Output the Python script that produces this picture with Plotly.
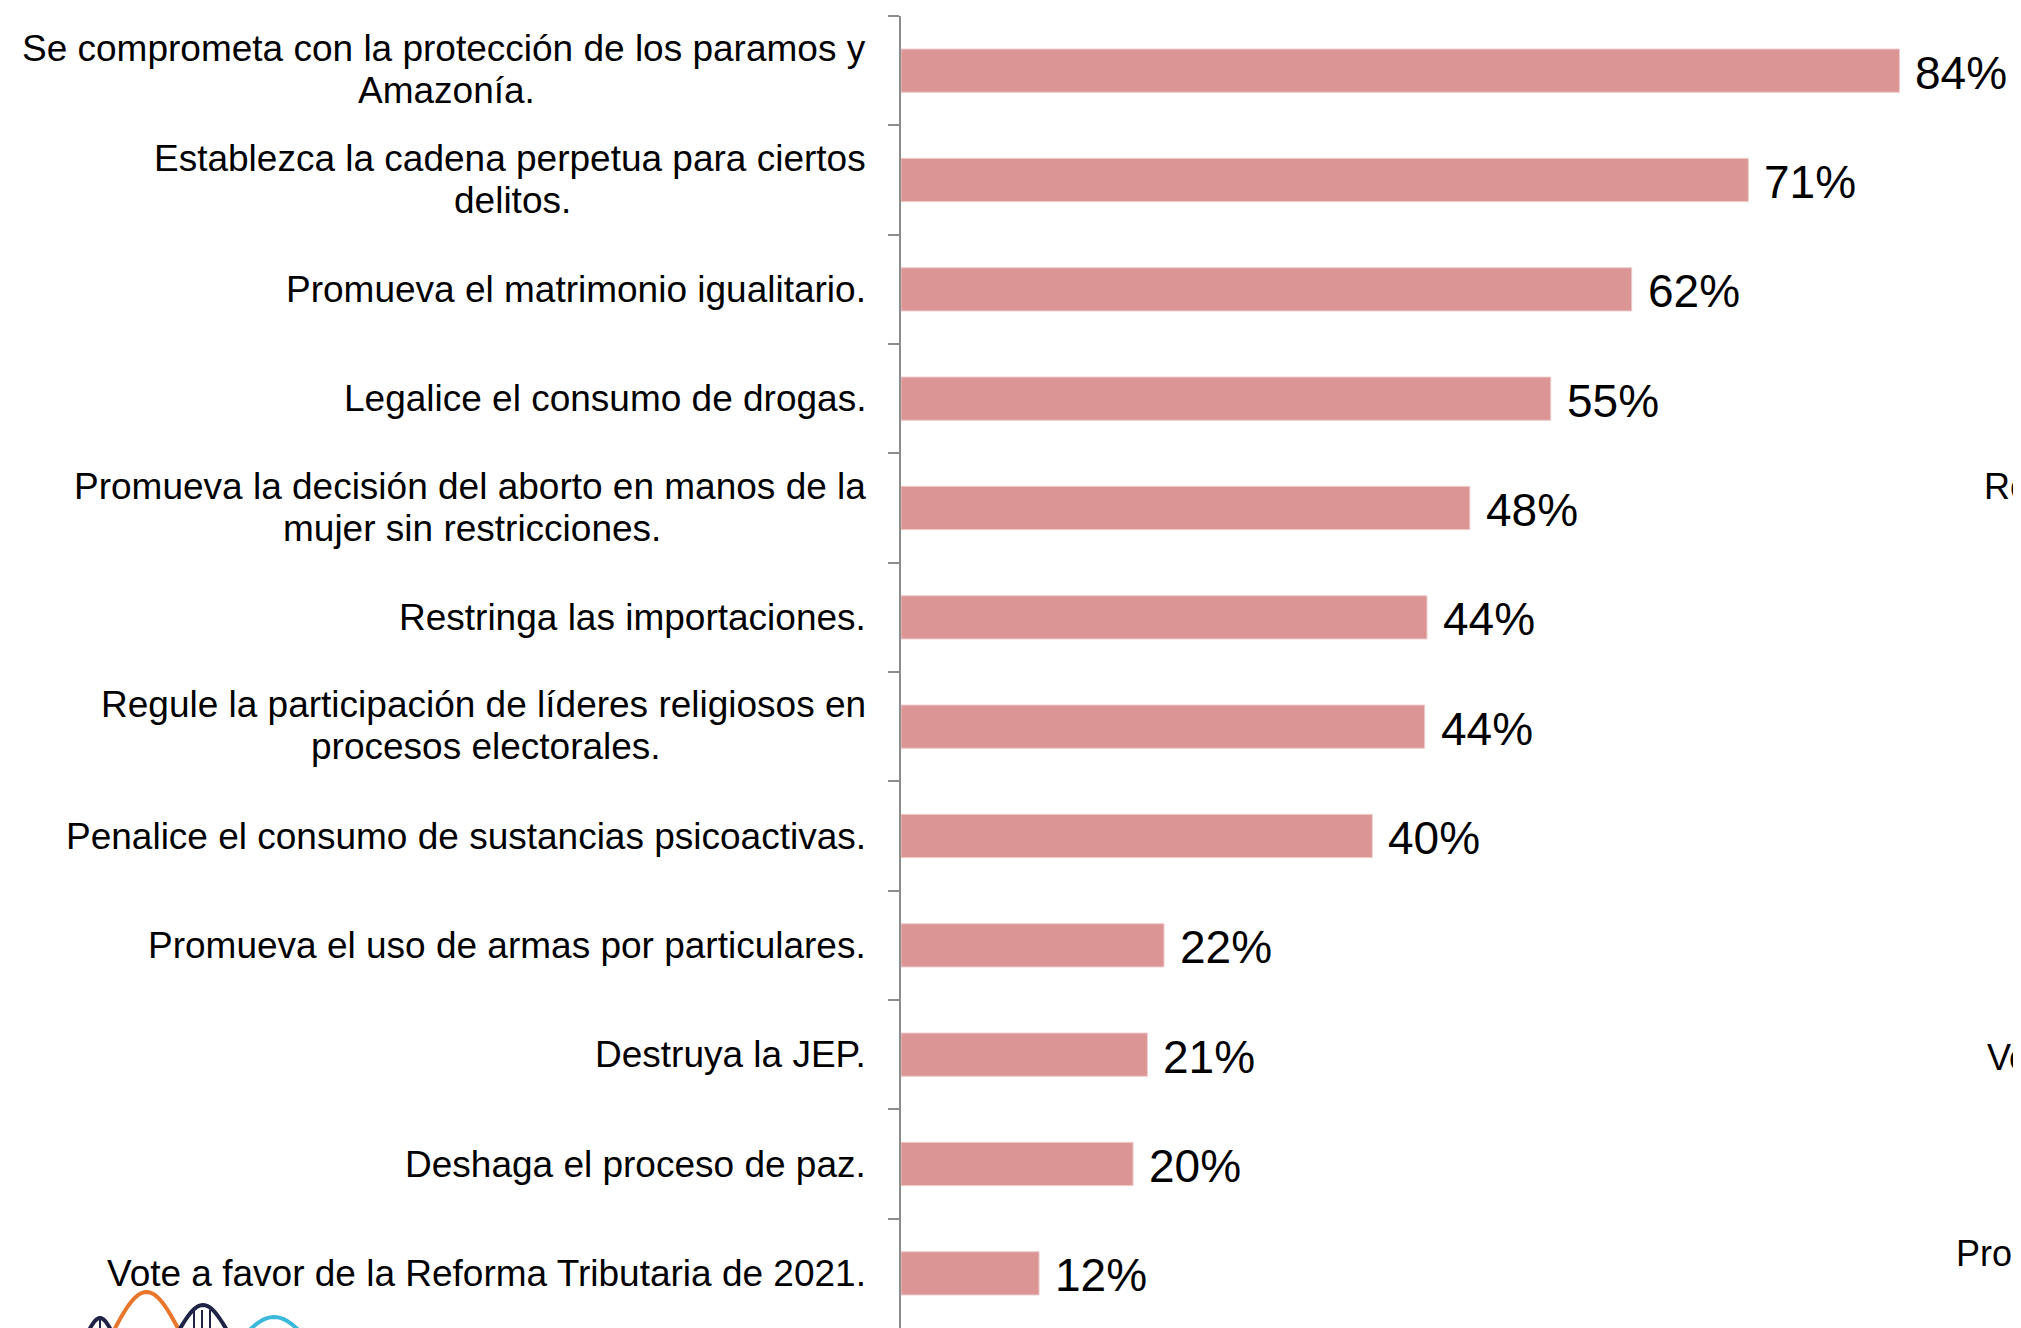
import math
import plotly.graph_objects as go

categories = [
    "Se comprometa con la protección de los paramos y<br>Amazonía.",
    "Establezca la cadena perpetua para ciertos<br>delitos.",
    "Promueva el matrimonio igualitario.",
    "Legalice el consumo de drogas.",
    "Promueva la decisión del aborto en manos de la<br>mujer sin restricciones.",
    "Restringa las importaciones.",
    "Regule la participación de líderes religiosos en<br>procesos electorales.",
    "Penalice el consumo de sustancias psicoactivas.",
    "Promueva el uso de armas por particulares.",
    "Destruya la JEP.",
    "Deshaga el proceso de paz.",
    "Vote a favor de la Reforma Tributaria de 2021.",
]
values = [83.9, 71.2, 61.4, 54.6, 47.8, 44.2, 44.0, 39.6, 22.1, 20.7, 19.5, 11.6]
value_labels = ["84%", "71%", "62%", "55%", "48%", "44%", "44%", "40%", "22%", "21%", "20%", "12%"]

# partial text of a neighbouring chart, cut off by the right edge
side_texts = ["Regule la participación", "Vote a favor", "Promueva el uso"]

# the page adds an 8px body margin, so the figure is drawn 8px smaller / shifted
OFF = 8
W, H = 2021 - OFF, 1328 - OFF
ML, MT = 901 - OFF, 16 - OFF
PW, PH = W - ML, H - MT
FONT = "Liberation Sans, Arial, sans-serif"
LABEL_SIZE = 37

# Arial / Liberation Sans advance widths (1/1000 em) to centre wrapped lines
_W = {c: 556 for c in "abdeghnopquáéóú0123456789"}
_W.update({"c": 500, "f": 278, "i": 222, "j": 222, "k": 500, "l": 222, "m": 833,
           "r": 333, "s": 500, "t": 278, "v": 500, "w": 722, "x": 500, "y": 500,
           "z": 500, "í": 278, " ": 278, ".": 278, "S": 667, "E": 667, "P": 667,
           "R": 722, "A": 667, "J": 500, "D": 722, "V": 667, "T": 611})


def text_width(s, size):
    return sum(_W.get(ch, 556) for ch in s) * size / 1000.0


fig = go.Figure(go.Bar(
    x=values, y=categories, orientation="h",
    marker=dict(color="#DA9594", line=dict(color="#EDC9C8", width=1)),
    width=0.395, hoverinfo="skip",
))

ann = []
for c, v, t in zip(categories, values, value_labels):
    lab_font = dict(family=FONT, size=LABEL_SIZE, color="#000000")
    base = dict(x=0, xref="paper", y=c, yref="y", showarrow=False,
                yanchor="middle", font=lab_font)
    if "<br>" in c:
        l1, l2 = c.split("<br>")
        w1 = text_width(l1, LABEL_SIZE)
        ann.append(dict(base, text=l1, xanchor="right", xshift=-33, yshift=22))
        ann.append(dict(base, text=l2, xanchor="center", xshift=-33 - w1 / 2, yshift=-20))
    else:
        ann.append(dict(base, text=c, xanchor="right", xshift=-33))
    ann.append(dict(x=v, xref="x", y=c, yref="y", text=t, showarrow=False,
                    xanchor="left", yanchor="middle", xshift=14, yshift=-2,
                    font=dict(family=FONT, size=46, color="#000000")))


def px_to_paper(px, py):
    # px, py: target page pixel coordinates
    px -= OFF
    py -= OFF
    return (px - ML) / PW, (H - py) / PH


for txt, (px, py) in zip(side_texts, [(1982, 486), (1985, 1057), (1954, 1253)]):
    xp, yp = px_to_paper(px, py)
    ann.append(dict(x=xp, xref="paper", y=yp, yref="paper", text=txt, showarrow=False,
                    xanchor="left", yanchor="middle",
                    font=dict(family=FONT, size=36, color="#000000")))


def path(points):
    s = ""
    for k, (px, py) in enumerate(points):
        xp, yp = px_to_paper(px, py)
        s += ("M" if k == 0 else "L") + f"{xp:.5f},{yp:.5f} "
    return s


def hump(x0, x1, peak_y, base_y=1332, n=30):
    pts = []
    for k in range(n + 1):
        tt = k / n
        x = x0 + (x1 - x0) * tt
        y = base_y - (base_y - peak_y) * math.sin(math.pi * tt)
        pts.append((x, y))
    return pts


shapes = [
    dict(type="path", xref="paper", yref="paper", path=path(hump(113, 180, 1292)),
         line=dict(color="#E8762C", width=4)),
    dict(type="path", xref="paper", yref="paper", path=path(hump(88, 112, 1318)),
         line=dict(color="#1F2346", width=4)),
    dict(type="path", xref="paper", yref="paper", path=path(hump(178, 228, 1305)),
         line=dict(color="#1F2346", width=4)),
    dict(type="path", xref="paper", yref="paper", path=path(hump(236, 312, 1317, base_y=1345)),
         line=dict(color="#3CB8DA", width=4)),
]
for xv in [194, 202, 210]:
    shapes.append(dict(type="path", xref="paper", yref="paper",
                       path=path([(xv, 1310), (xv, 1330)]),
                       line=dict(color="#1F2346", width=2)))
shapes.append(dict(type="path", xref="paper", yref="paper",
                   path=path([(100, 1320), (100, 1330)]),
                   line=dict(color="#1F2346", width=2)))

fig.update_layout(
    width=W, height=H,
    margin=dict(l=ML, r=0, t=MT, b=0, pad=0),
    paper_bgcolor="white", plot_bgcolor="white",
    showlegend=False,
    annotations=ann,
    shapes=shapes,
    xaxis=dict(range=[0, PW / 11.9], visible=False, showgrid=False, zeroline=False),
    yaxis=dict(
        type="category",
        categoryorder="array", categoryarray=categories,
        range=[len(categories) - 0.5, -0.5],
        tickson="boundaries", ticks="outside", ticklen=11, tickwidth=2,
        tickcolor="#8C8C8C", showline=True, linecolor="#8C8C8C", linewidth=2,
        showgrid=False, zeroline=False, showticklabels=False,
    ),
)

fig.write_html("out.html")
